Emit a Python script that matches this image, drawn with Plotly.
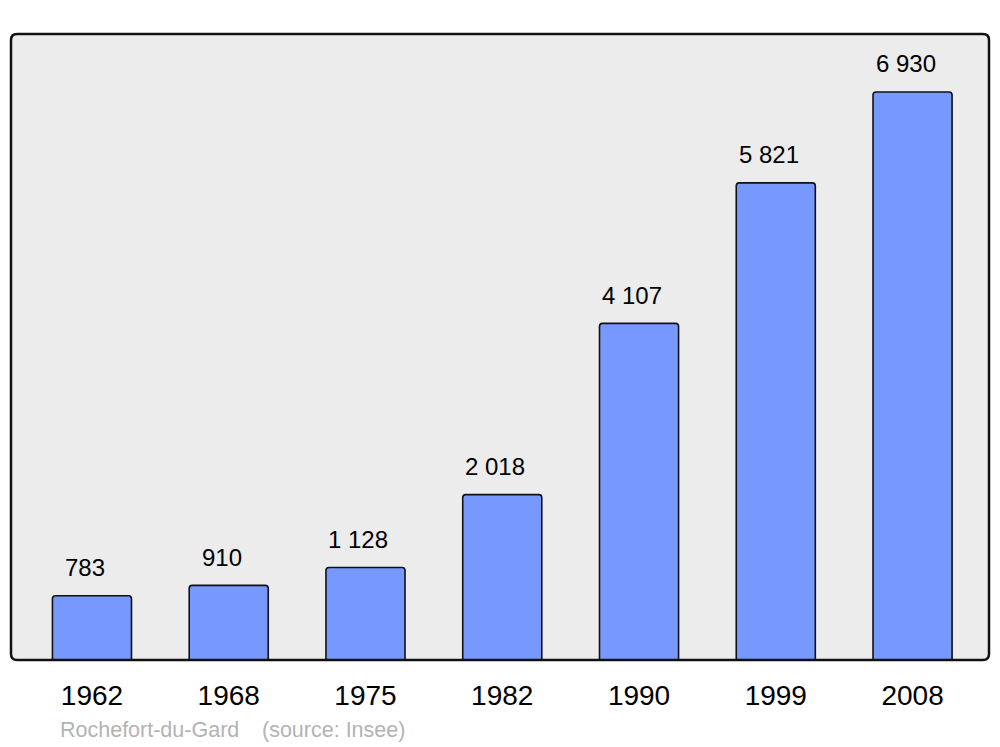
import plotly.graph_objects as go

years = ["1962", "1968", "1975", "1982", "1990", "1999", "2008"]
population = [783, 910, 1128, 2018, 4107, 5821, 6930]
value_labels = ["783", "910", "1 128", "2 018", "4 107", "5 821", "6 930"]
town = "Rochefort-du-Gard"
source = "(source: Insee)"

# page body has an 8px margin; compensate so the plot sits where the reference has it
OFF = 8
W, H = 1000 - OFF, 747 - OFF
L, T = 11 - OFF, 34 - OFF
R, B = 11, 87
pw, ph = W - L - R, H - T - B
FONT = "Liberation Sans, Arial, sans-serif"

xs = list(range(len(years)))

fig = go.Figure()
fig.add_trace(go.Bar(
    x=xs, y=population, width=0.578,
    marker=dict(color="#7799ff", line=dict(color="#111111", width=1.6), cornerradius=3),
    hoverinfo="skip",
))

for i, (v, t) in enumerate(zip(population, value_labels)):
    fig.add_annotation(x=i, y=v, text=t, showarrow=False, xanchor="center", yanchor="middle",
                       yshift=28, xshift=-7,
                       font=dict(family=FONT, size=24, color="#000000"))

# rounded frame
rx, ry = 6 / pw, 6 / ph
path = (f"M {rx},0 L {1-rx},0 Q 1,0 1,{ry} L 1,{1-ry} Q 1,1 {1-rx},1 "
        f"L {rx},1 Q 0,1 0,{1-ry} L 0,{ry} Q 0,0 {rx},0 Z")
fig.add_shape(type="path", path=path, xref="paper", yref="paper",
              fillcolor="#ececec", line=dict(color="#111111", width=0), layer="below")
fig.add_shape(type="path", path=path, xref="paper", yref="paper",
              fillcolor="rgba(0,0,0,0)", line=dict(color="#111111", width=2.5), layer="above")

fy = (660 - 730) / ph
fig.add_annotation(x=(58 - 11) / pw, y=fy, xref="paper", yref="paper",
                   text=town, showarrow=False, xanchor="left", yanchor="middle",
                   font=dict(family=FONT, size=21.5, color="#b3b3b3"))
fig.add_annotation(x=(260 - 11) / pw, y=fy, xref="paper", yref="paper",
                   text=source, showarrow=False, xanchor="left", yanchor="middle",
                   font=dict(family=FONT, size=21.5, color="#b3b3b3"))

fig.update_layout(
    width=W, height=H,
    margin=dict(l=L, r=R, t=T, b=B),
    paper_bgcolor="#ffffff", plot_bgcolor="rgba(0,0,0,0)",
    showlegend=False,
    xaxis=dict(tickmode="array", tickvals=xs, ticktext=years, range=[-0.592, 6.559],
               showgrid=False, zeroline=False, showline=False, ticks="",
               ticklabelstandoff=16,
               tickfont=dict(family=FONT, size=28, color="#000000")),
    yaxis=dict(range=[0, 7637], visible=False, showgrid=False, zeroline=False),
)

fig.write_html("out.html")
